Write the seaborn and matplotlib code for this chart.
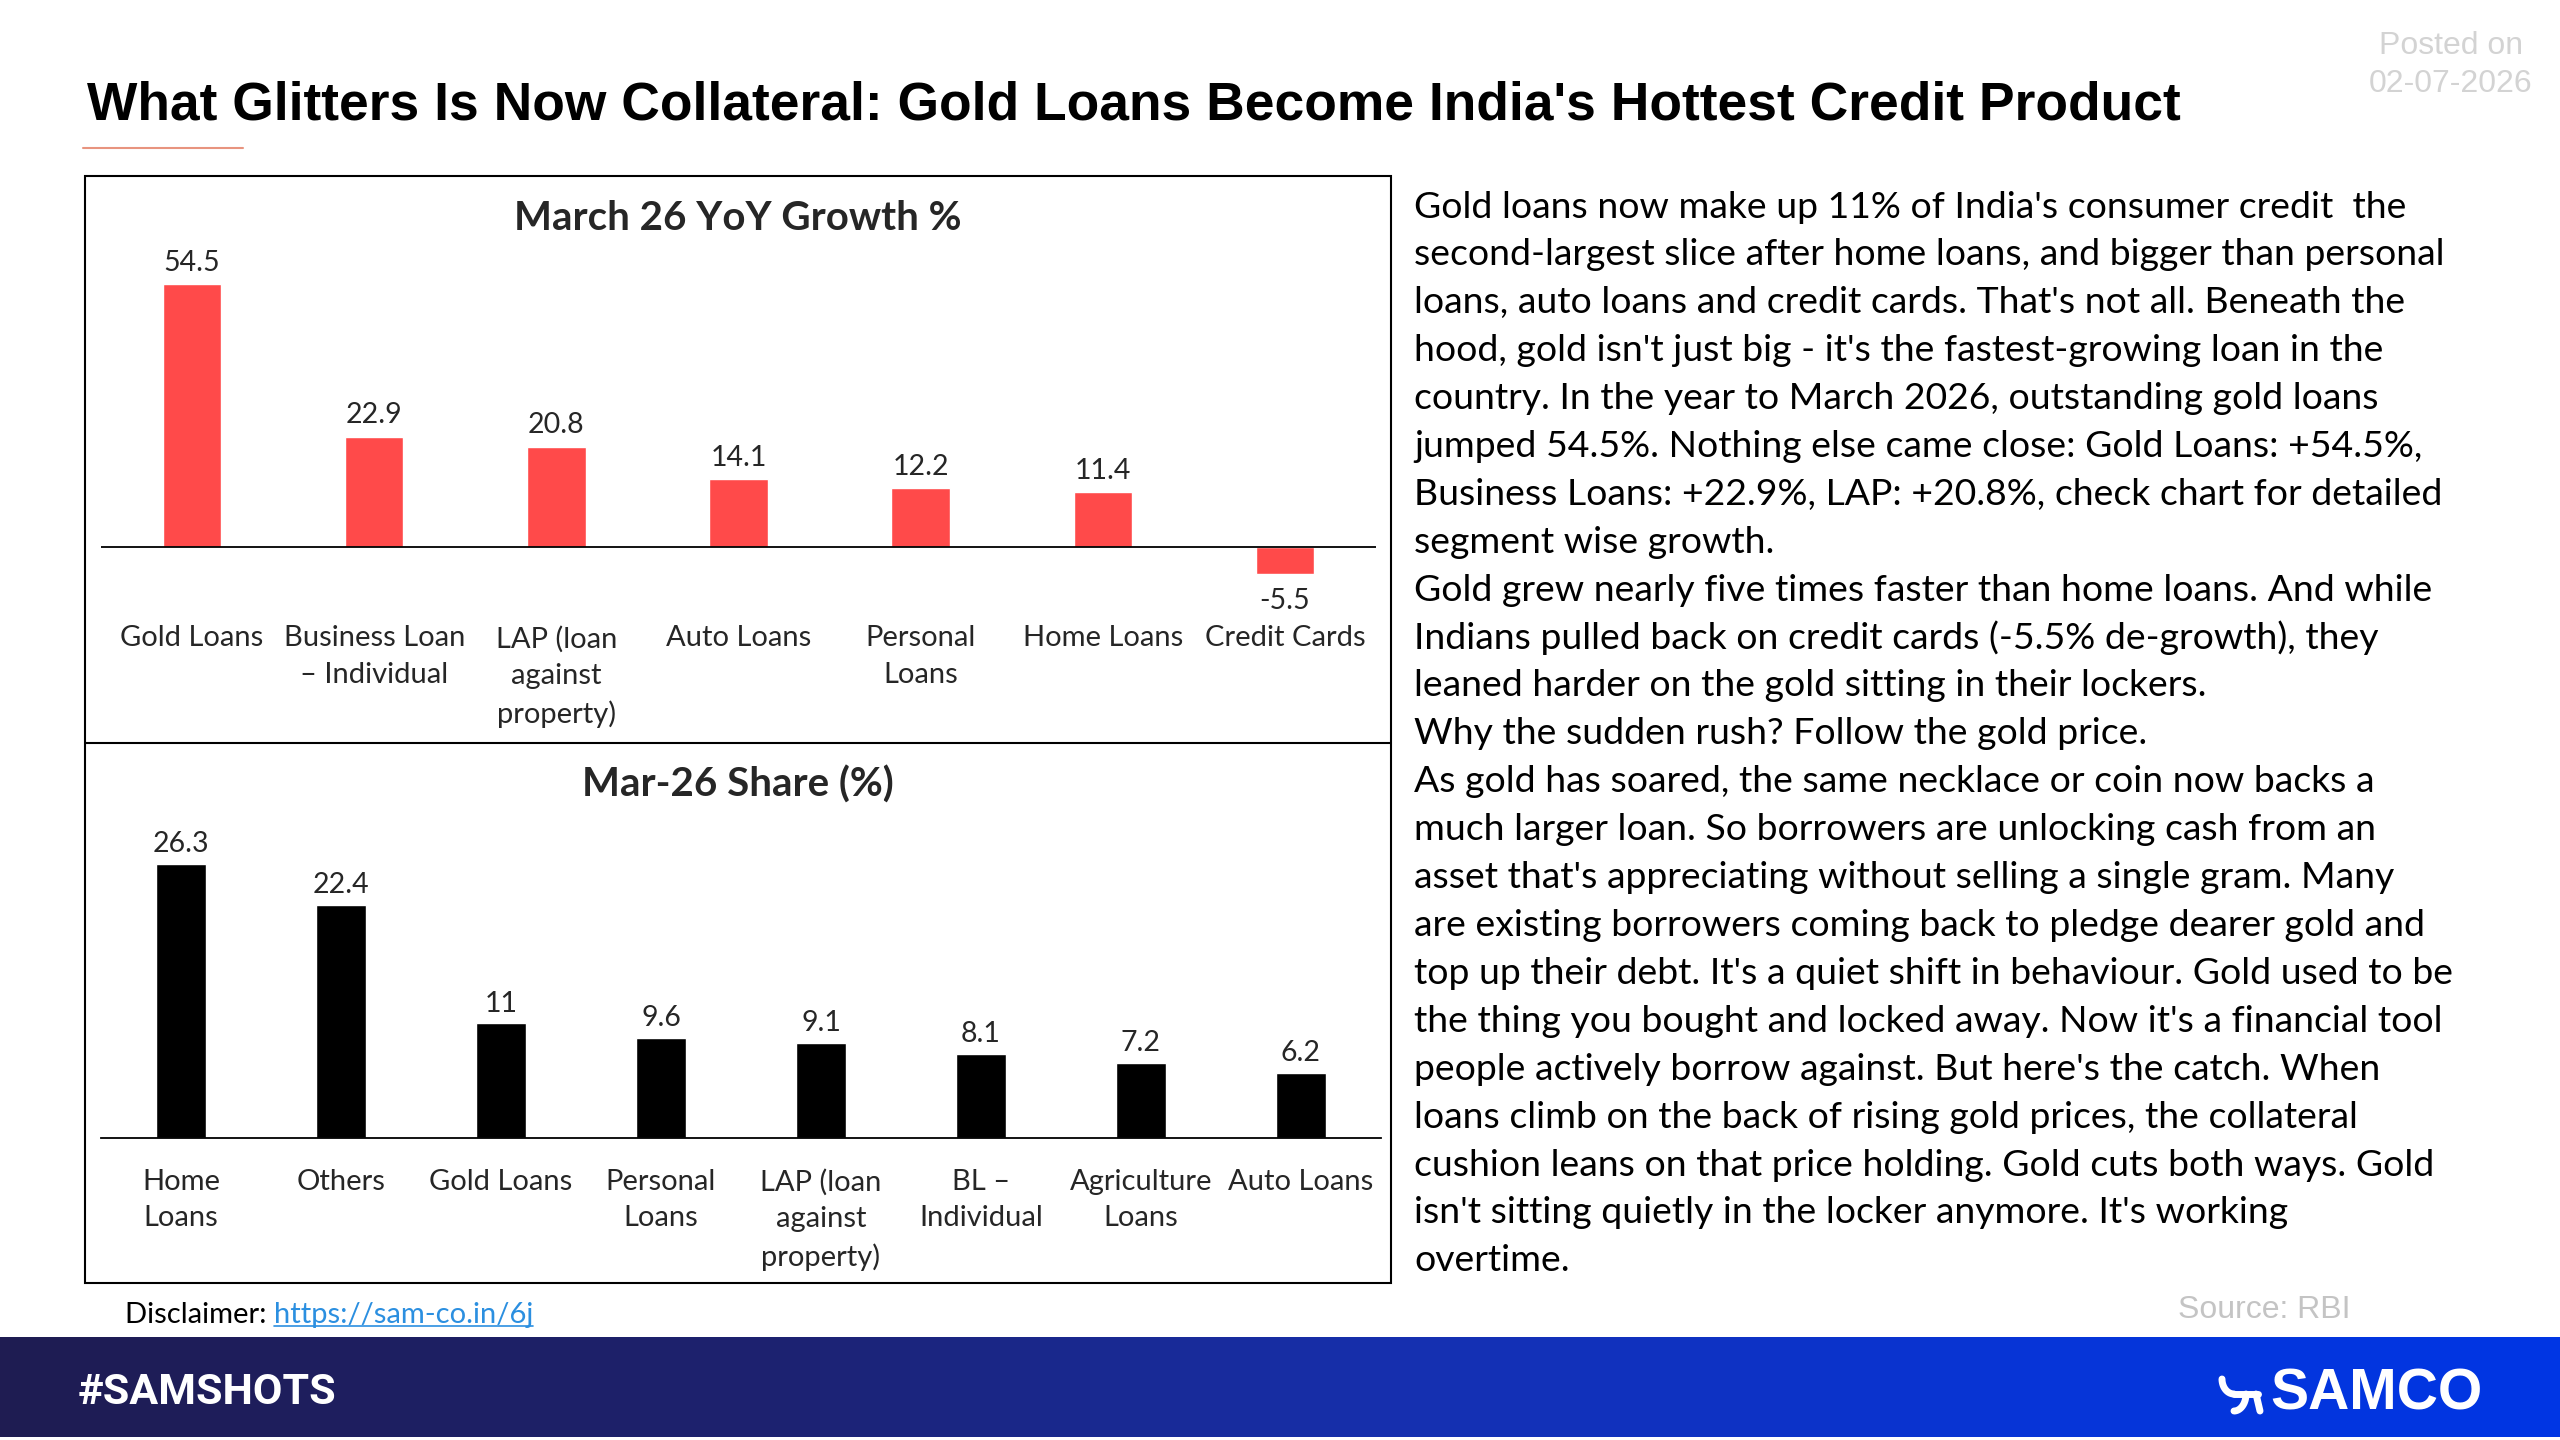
import numpy as np
import seaborn as sns
import matplotlib.pyplot as plt
from matplotlib.colors import LinearSegmentedColormap
from matplotlib.patches import Rectangle

# ---- data ----
growth_labels = ["Gold Loans", "Business Loan\n– Individual", "LAP (loan\nagainst\nproperty)",
                 "Auto Loans", "Personal\nLoans", "Home Loans", "Credit Cards"]
growth_values = [54.5, 22.9, 20.8, 14.1, 12.2, 11.4, -5.5]

share_labels = ["Home\nLoans", "Others", "Gold Loans", "Personal\nLoans",
                "LAP (loan\nagainst\nproperty)", "BL –\nIndividual", "Agriculture\nLoans", "Auto Loans"]
share_values = [26.3, 22.4, 11, 9.6, 9.1, 8.1, 7.2, 6.2]

title = "What Glitters Is Now Collateral: Gold Loans Become India's Hottest Credit Product"
body_lines = [
    "Gold loans now make up 11% of India's consumer credit  the",
    "second-largest slice after home loans, and bigger than personal",
    "loans, auto loans and credit cards. That's not all. Beneath the",
    "hood, gold isn't just big - it's the fastest-growing loan in the",
    "country. In the year to March 2026, outstanding gold loans",
    "jumped 54.5%. Nothing else came close: Gold Loans: +54.5%,",
    "Business Loans: +22.9%, LAP: +20.8%, check chart for detailed",
    "segment wise growth.",
    "Gold grew nearly five times faster than home loans. And while",
    "Indians pulled back on credit cards (-5.5% de-growth), they",
    "leaned harder on the gold sitting in their lockers.",
    "Why the sudden rush? Follow the gold price.",
    "As gold has soared, the same necklace or coin now backs a",
    "much larger loan. So borrowers are unlocking cash from an",
    "asset that's appreciating without selling a single gram. Many",
    "are existing borrowers coming back to pledge dearer gold and",
    "top up their debt. It's a quiet shift in behaviour. Gold used to be",
    "the thing you bought and locked away. Now it's a financial tool",
    "people actively borrow against. But here's the catch. When",
    "loans climb on the back of rising gold prices, the collateral",
    "cushion leans on that price holding. Gold cuts both ways. Gold",
    "isn't sitting quietly in the locker anymore. It's working",
    "overtime.",
]

RED = "#FF4A4A"
BODY_FONT = ["Lato", "DejaVu Sans"]
HEAD_FONT = ["Liberation Sans", "DejaVu Sans"]

sns.set_theme(style="white")
plt.rcParams["font.family"] = BODY_FONT

W, H = 2560, 1440
fig = plt.figure(figsize=(W / 100, H / 100), dpi=100)
fig.patch.set_facecolor("white")

# full-figure canvas in pixel coordinates for layout elements
bg = fig.add_axes([0, 0, 1, 1], zorder=0)
bg.axis("off")

# footer band gradient
footer_cmap = LinearSegmentedColormap.from_list(
    "footer", [(0, "#1f1c52"), (0.3, "#1d2270"), (0.55, "#1630b0"), (0.8, "#0735d8"), (1, "#0036e4")])
bg.imshow(np.linspace(0, 1, 512)[None, :], cmap=footer_cmap, aspect="auto",
          extent=[0, W, 1437, 1337], zorder=1)

# headline
bg.text(87, 105, title, family=HEAD_FONT, fontsize=38.4, fontweight="bold", color="black",
        ha="left", va="center")
bg.plot([83, 243], [148, 148], color="#e8947f", lw=1.5)
bg.text(2451, 46, "Posted on", family=HEAD_FONT, fontsize=23, color="#d3d3d3", ha="center", va="center")
bg.text(2451, 84, "02-07-2026", family=HEAD_FONT, fontsize=23, color="#d3d3d3", ha="center", va="center")

# chart box + divider
bg.add_patch(Rectangle((85, 176), 1391 - 85, 1283 - 176, fill=False, ec="black", lw=1.5, zorder=2))
bg.plot([85, 1391], [743, 743], color="black", lw=1.5)

# chart titles
bg.text(738, 218, "March 26 YoY Growth %", fontsize=29, fontweight="bold", ha="center", va="center")
bg.text(738, 785, "Mar-26 Share (%)", fontsize=29, fontweight="bold", ha="center", va="center")

# body text
for i, line in enumerate(body_lines):
    bg.text(1414, 207 + i * 47.9, line, fontsize=26.9, color="black", ha="left", va="center")

# source + disclaimer
bg.text(2178, 1310, "Source: RBI", family=HEAD_FONT, fontsize=23, color="#c4c4c4", ha="left", va="center")
disc = bg.text(125, 1315, "Disclaimer: ", fontsize=21, color="black", ha="left", va="center")

# footer texts
bg.text(78, 1393, "#SAMSHOTS", family=["Roboto", "DejaVu Sans"], fontsize=31,
        fontweight="bold", color="white", ha="left", va="center")
bg.text(2270, 1395, "SAMCO", family=HEAD_FONT, fontsize=41, fontweight="bold", color="white",
        ha="left", va="center")
# simplified logo mark
t = np.linspace(0, np.pi / 2, 20)
bg.plot(2222 + 12 * (1 - np.cos(t)), 1379 + 15 * np.sin(t), color="white", lw=5, solid_capstyle="round")
bg.plot([2234, 2258], [1394, 1394], color="white", lw=5, solid_capstyle="round")
bg.plot(2246 - 12 * (1 - np.cos(t)), 1394 + 17 * np.sin(t), color="white", lw=5, solid_capstyle="round")
bg.plot([2256, 2260], [1394, 1411], color="white", lw=5, solid_capstyle="round")

# ---- top chart: YoY growth ----
ax1 = fig.add_axes([101 / W, 1 - 581 / H, 1275 / W, 323.4 / H], zorder=3)
ax1.patch.set_alpha(0)
sns.barplot(x=growth_labels, y=growth_values, color=RED, saturation=1, width=0.32, ax=ax1)
ax1.set_ylim(-7, 60)
ax1.axhline(0, color="black", lw=1.3)
# positive labels above bars, the negative one a bit further below its bar
ax1.bar_label(ax1.containers[0], labels=[f"{v:g}" if v >= 0 else "" for v in growth_values],
              padding=6, fontsize=20.5)
ax1.bar_label(ax1.containers[0], labels=[f"{v:g}" if v < 0 else "" for v in growth_values],
              padding=10, fontsize=20.5)
ax1.set_yticks([])
ax1.set_xlabel("")
ax1.set_ylabel("")
ax1.tick_params(axis="x", length=0, pad=32, labelsize=21)
for lbl in ax1.get_xticklabels():
    lbl.set_linespacing(1.5)
sns.despine(ax=ax1, left=True, bottom=True)

# ---- bottom chart: share ----
ax2 = fig.add_axes([101 / W, 1 - 1138 / H, 1280 / W, 302 / H], zorder=3)
ax2.patch.set_alpha(0)
sns.barplot(x=share_labels, y=share_values, color="black", saturation=1, width=0.31, ax=ax2)
ax2.set_ylim(0, 29)
ax2.bar_label(ax2.containers[0], labels=[f"{v:g}" for v in share_values], padding=5, fontsize=20.5)
ax2.set_yticks([])
ax2.set_xlabel("")
ax2.set_ylabel("")
ax2.tick_params(axis="x", length=0, pad=22, labelsize=21)
for lbl in ax2.get_xticklabels():
    lbl.set_linespacing(1.5)
sns.despine(ax=ax2, left=True)
ax2.spines["bottom"].set_color("black")
ax2.spines["bottom"].set_linewidth(1.3)

bg.set_xlim(0, W)
bg.set_ylim(H, 0)

# link placed right after "Disclaimer: ", with an underline
renderer = fig.canvas.get_renderer()
ext = disc.get_window_extent(renderer)
link = bg.text(ext.x1, 1315, "https://sam-co.in/6j", fontsize=21, color="#2b8fe0", ha="left", va="center")
lext = link.get_window_extent(renderer)
bg.plot([lext.x0, lext.x1], [H - lext.y0 - 2, H - lext.y0 - 2], color="#2b8fe0", lw=1.2)
bg.set_xlim(0, W)
bg.set_ylim(H, 0)

fig.savefig("out.png", dpi=100)
